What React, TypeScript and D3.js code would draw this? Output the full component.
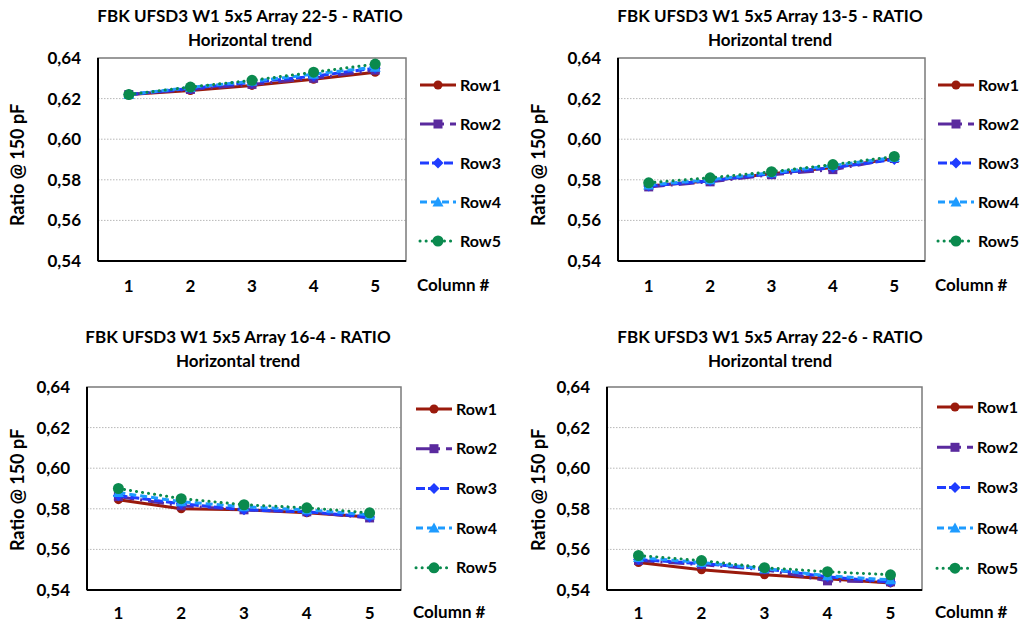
import React from "react";
import * as d3 from "d3";

const columns = [1, 2, 3, 4, 5];
const rowNames = ["Row1", "Row2", "Row3", "Row4", "Row5"];
const yTicks = [0.54, 0.56, 0.58, 0.6, 0.62, 0.64];
const titles = [
  "FBK UFSD3 W1 5x5 Array 22-5 - RATIO",
  "FBK UFSD3 W1 5x5 Array 13-5 - RATIO",
  "FBK UFSD3 W1 5x5 Array 16-4 - RATIO",
  "FBK UFSD3 W1 5x5 Array 22-6 - RATIO",
];
const subtitle = "Horizontal trend";
const yLabel = "Ratio @ 150 pF";
const xLabel = "Column #";

const array22_5 = [
  [0.622, 0.624, 0.6265, 0.6295, 0.633],
  [0.622, 0.6245, 0.627, 0.630, 0.634],
  [0.622, 0.625, 0.628, 0.631, 0.635],
  [0.622, 0.6255, 0.6285, 0.632, 0.6355],
  [0.622, 0.6257, 0.629, 0.633, 0.637],
];
const array13_5 = [
  [0.577, 0.5795, 0.583, 0.586, 0.5905],
  [0.5765, 0.579, 0.5825, 0.585, 0.5905],
  [0.577, 0.5795, 0.583, 0.586, 0.590],
  [0.5775, 0.580, 0.5835, 0.587, 0.591],
  [0.5785, 0.581, 0.584, 0.5875, 0.5915],
];
const array16_4 = [
  [0.5845, 0.580, 0.5795, 0.578, 0.576],
  [0.586, 0.5815, 0.5795, 0.5785, 0.5755],
  [0.5865, 0.5825, 0.5795, 0.5785, 0.576],
  [0.588, 0.5835, 0.581, 0.5795, 0.577],
  [0.590, 0.585, 0.582, 0.5805, 0.578],
];
const array22_6 = [
  [0.5535, 0.550, 0.5475, 0.5455, 0.5435],
  [0.5545, 0.5525, 0.550, 0.5445, 0.544],
  [0.555, 0.553, 0.5505, 0.5465, 0.544],
  [0.556, 0.5535, 0.5505, 0.547, 0.545],
  [0.557, 0.5545, 0.551, 0.549, 0.5475],
];
const panelData = [array22_5, array13_5, array16_4, array22_6];

const colors = ["#9a1a0c", "#5a2a9e", "#1f3cff", "#1e9bff", "#0a8a4e"];
const dashes = ["none", "16,6,2,6", "9,3", "7,4", "0.1,6"];
const markers = ["circle", "square", "diamond", "triangle", "bigcircle"];

const layouts = [
  { left: 98, right: 406, top: 58, bottom: 261, titleX: 250, titleY: 22, yLabX: 24, yLabY: 165, tickX: 81, legX: 420, legY: 85, legStep: 39, xLabX: 417, xTickY: 292 },
  { left: 618, right: 925, top: 58, bottom: 261, titleX: 770, titleY: 22, yLabX: 545, yLabY: 165, tickX: 601, legX: 938, legY: 85, legStep: 39, xLabX: 935, xTickY: 292 },
  { left: 87, right: 401, top: 387, bottom: 590, titleX: 238, titleY: 343, yLabX: 24, yLabY: 490, tickX: 70, legX: 416, legY: 409, legStep: 39.7, xLabX: 413, xTickY: 619 },
  { left: 607, right: 922, top: 387, bottom: 590, titleX: 770, titleY: 343, yLabX: 545, yLabY: 490, tickX: 590, legX: 937, legY: 407, legStep: 40.3, xLabX: 935, xTickY: 619 },
];

const FONT = "Lato, 'Open Sans', sans-serif";
const fmt = (v: number) => d3.format(".2f")(v).replace(".", ",");

function Marker({ kind, x, y, color }: { kind: string; x: number; y: number; color: string }) {
  if (kind === "circle") return <circle cx={x} cy={y} r={4.5} fill={color} />;
  if (kind === "bigcircle") return <circle cx={x} cy={y} r={5.5} fill={color} />;
  if (kind === "square") return <rect x={x - 4.5} y={y - 4.5} width={9} height={9} fill={color} />;
  if (kind === "diamond") return <path d={`M${x},${y - 5.5}L${x + 5.5},${y}L${x},${y + 5.5}L${x - 5.5},${y}Z`} fill={color} />;
  return <path d={`M${x},${y - 5.5}L${x + 5.5},${y + 4.5}L${x - 5.5},${y + 4.5}Z`} fill={color} />;
}

function Panel({ idx }: { idx: number }) {
  const L = layouts[idx];
  const data = panelData[idx];
  const x = d3.scaleBand<number>().domain(columns).range([L.left, L.right]);
  const cx = (c: number) => (x(c) as number) + x.bandwidth() / 2;
  const y = d3.scaleLinear().domain([0.54, 0.64]).range([L.bottom, L.top]);
  const line = d3
    .line<number>()
    .x((_, i) => cx(columns[i]))
    .y((d) => y(d));
  return (
    <g>
      <text x={L.titleX} y={L.titleY} textAnchor="middle" fontSize={17} fontWeight="bold" fontFamily={FONT} fill="#000">
        {titles[idx]}
      </text>
      <text x={L.titleX} y={L.titleY + 24} textAnchor="middle" fontSize={17} fontWeight="bold" fontFamily={FONT} fill="#000">
        {subtitle}
      </text>
      {yTicks.slice(1, -1).map((t) => (
        <line key={t} x1={L.left} x2={L.right} y1={y(t)} y2={y(t)} stroke="#b8b8b8" strokeWidth={1} strokeDasharray="1.5,1.5" />
      ))}
      <rect x={L.left} y={L.top} width={L.right - L.left} height={L.bottom - L.top} fill="none" stroke="#7a7a7a" strokeWidth={1.5} />
      <line x1={L.left} x2={L.left} y1={L.top} y2={L.bottom} stroke="#000" strokeWidth={2} />
      <line x1={L.left} x2={L.right} y1={L.bottom} y2={L.bottom} stroke="#000" strokeWidth={2} />
      {yTicks.map((t) => (
        <text key={t} x={L.tickX} y={y(t)} dy="0.35em" textAnchor="end" fontSize={17} fontWeight="bold" fontFamily={FONT}>
          {fmt(t)}
        </text>
      ))}
      {columns.map((c) => (
        <text key={c} x={cx(c)} y={L.xTickY} textAnchor="middle" fontSize={17} fontWeight="bold" fontFamily={FONT}>
          {c}
        </text>
      ))}
      <text x={L.xLabX} y={L.xTickY - 1} fontSize={17} fontWeight="bold" fontFamily={FONT}>
        {xLabel}
      </text>
      <text
        transform={`translate(${L.yLabX},${L.yLabY}) rotate(-90)`}
        textAnchor="middle"
        fontSize={18}
        fontWeight="bold"
        fontFamily={FONT}
      >
        {yLabel}
      </text>
      {data.map((series, si) => (
        <g key={si}>
          <path
            d={line(series) || ""}
            fill="none"
            stroke={colors[si]}
            strokeWidth={3}
            strokeDasharray={dashes[si] === "none" ? undefined : dashes[si]}
            strokeLinecap={si === 4 ? "round" : "butt"}
          />
          {series.map((v, i) => (
            <Marker key={i} kind={markers[si]} x={cx(columns[i])} y={y(v)} color={colors[si]} />
          ))}
        </g>
      ))}
      {rowNames.map((name, si) => {
        const ly = L.legY + si * L.legStep;
        return (
          <g key={name}>
            <line
              x1={L.legX}
              x2={L.legX + 36}
              y1={ly}
              y2={ly}
              stroke={colors[si]}
              strokeWidth={3}
              strokeDasharray={dashes[si] === "none" ? undefined : dashes[si]}
              strokeLinecap={si === 4 ? "round" : "butt"}
            />
            <Marker kind={markers[si]} x={L.legX + 18} y={ly} color={colors[si]} />
            <text x={L.legX + 40} y={ly} dy="0.35em" fontSize={16} fontWeight="bold" fontFamily={FONT}>
              {name}
            </text>
          </g>
        );
      })}
    </g>
  );
}

export default function App() {
  return (
    <svg width={1025} height={628} style={{ position: "absolute", left: 0, top: 0, background: "#fff" }}>
      <rect width={1025} height={628} fill="#fff" />
      {layouts.map((_, i) => (
        <Panel key={i} idx={i} />
      ))}
    </svg>
  );
}
